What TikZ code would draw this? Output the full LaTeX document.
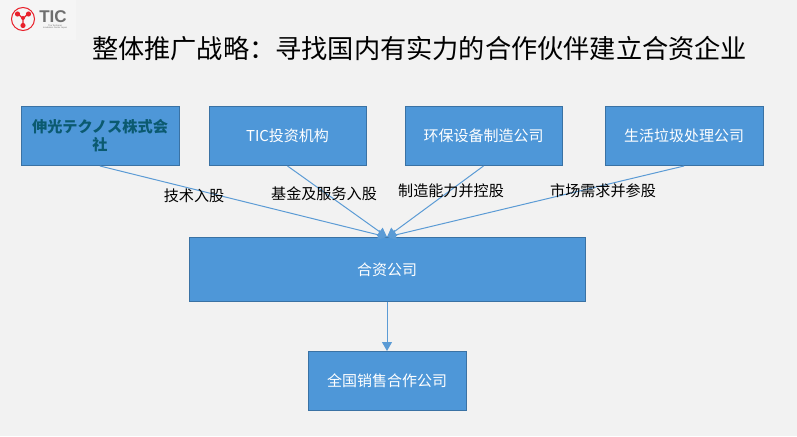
\documentclass[tikz,border=0pt]{standalone}
\usepackage{fontspec}
\setmainfont{Noto Sans CJK SC}
\newfontfamily\logofont{Liberation Sans}
\usetikzlibrary{arrows.meta}
\definecolor{pagebg}{HTML}{F2F2F2}
\definecolor{boxfill}{HTML}{4E97D8}
\definecolor{boxline}{HTML}{3A72A4}
\definecolor{linkcol}{HTML}{5B9BD5}
\definecolor{tealtxt}{HTML}{0B5A70}
\definecolor{logored}{HTML}{E8202A}
\definecolor{logogray}{HTML}{6E6E6E}
\tikzset{
  x=1pt,y=-1pt,
  boxbase/.style={draw=boxline,line width=1pt,fill=boxfill,text=white,font=\fontsize{15}{18}\selectfont,align=center,inner sep=2pt},
  smallbox/.style={boxbase,minimum width=158pt,minimum height=59pt,text width=146pt},
  narrowbox/.style={smallbox,minimum width=157pt},
  bigbox/.style={boxbase,minimum width=396pt,minimum height=64pt},
  link/.style={draw=linkcol,line width=1pt,-{Triangle[length=9pt,width=10pt,fill=linkcol]}},
  lab/.style={font=\fontsize{15.1}{18}\selectfont,text=black,inner sep=0pt},
}
\begin{document}
\begin{tikzpicture}
\useasboundingbox (0,0) rectangle (797,436);
\fill[pagebg] (0,0) rectangle (797,436);
% logo
\fill[white!25!pagebg] (0,0) rectangle (76,40);
\draw[logored,line width=1pt] (23,19) circle (11.5);
\draw[logored,line width=1.2pt] (18,14) -- (23,18.5) -- (28,14) (23,18.5) -- (23,25.5);
\fill[logored] (17.5,14) circle (2.6) (28.5,14) circle (2.6) (23,25.5) circle (2.6) (23,18) circle (2);
\node[anchor=center,inner sep=0pt,text=logogray,font=\logofont\bfseries\fontsize{17}{17}\selectfont] (logotext) at (53,16.5) {TIC};
\node[anchor=center,inner sep=0pt,text=logogray,align=center,font=\logofont\fontsize{2.2}{2.6}\selectfont] (logosub) at (55,27) {The Technical\\Incubation Center Japan};
% title
\node[anchor=center,inner sep=0pt,font=\fontsize{26.2}{30}\selectfont,text=black] (title) at (419.5,49) {整体推广战略\symbol{"FF1A}寻找国内有实力的合作伙伴建立合资企业};
% boxes
\node[smallbox,text=tealtxt,font=\fontsize{15.2}{18}\selectfont\bfseries] (a) at (100,136) {伸光テクノス株式会\\社};
\node[narrowbox] (b) at (287.5,136) {TIC投资机构};
\node[narrowbox] (c) at (483.5,136) {环保设备制造公司};
\node[smallbox] (d) at (684,136) {生活垃圾处理公司};
\node[bigbox] (e) at (387,269.5) {合资公司};
\node[smallbox] (f) at (387,381) {全国销售合作公司};
% links
\draw[link] (a.south) -- (e.north);
\draw[link] (b.south) -- (e.north);
\draw[link] (c.south) -- (e.north);
\draw[link] (d.south) -- (e.north);
\draw[link] (e.south) -- (f.north);
% labels
\node[lab] (l1) at (194,196) {技术入股};
\node[lab] (l2) at (324,194) {基金及服务入股};
\node[lab] (l3) at (451,190.5) {制造能力并控股};
\node[lab] (l4) at (603,190.5) {市场需求并参股};
\end{tikzpicture}
\end{document}
